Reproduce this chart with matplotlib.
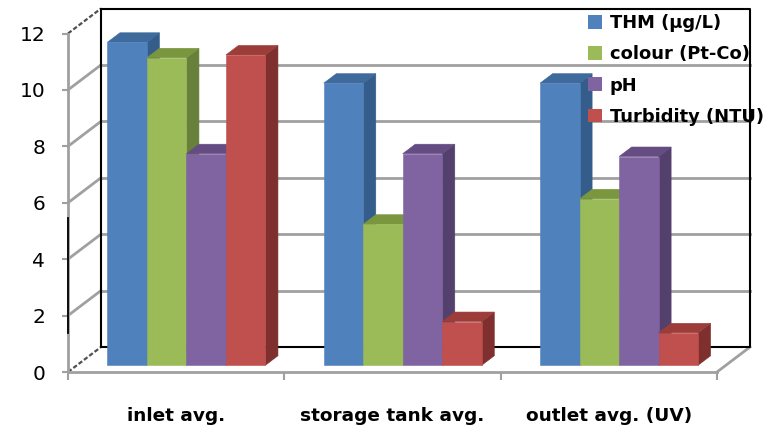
import matplotlib
matplotlib.use("Agg")
import matplotlib.pyplot as plt
from matplotlib.patches import Patch

plt.rcParams["font.family"] = ["DejaVu Sans"]

# averages per sampling point
categories = ["inlet avg.", "storage tank avg.", "outlet avg. (UV)"]
series_names = ["THM (\u00b5g/L)", "colour (Pt-Co)", "pH", "Turbidity (NTU)"]
thm = [11.45, 10.0, 10.0]
colour = [10.9, 5.0, 5.9]
ph = [7.5, 7.5, 7.4]
turbidity = [11.0, 1.55, 1.15]
y_ticks = [0, 2, 4, 6, 8, 10, 12]

series = [thm, colour, ph, turbidity]
# front, top, side shades (Excel 2007 palette)
shades = [
    ("#4F81BD", "#3F6A9C", "#355D8B"),
    ("#9BBB59", "#7A963F", "#67813A"),
    ("#8064A2", "#654C83", "#54406D"),
    ("#C0504D", "#9C3D3A", "#7F302E"),
]

# oblique depth vector in data units (x: categories, y: values)
DX, DY = 0.1525, 0.886
BAR_W = 0.1826
GROUP_OFF = 0.141
F0, F1 = 0.27, 0.65   # depth range occupied by the bars


def shift(x, y, f):
    return x + f * DX, y + f * DY


fig = plt.figure(figsize=(7.65, 4.29), dpi=100)
ax = fig.add_axes([68 / 765, 57 / 429, 649 / 765, 338.5 / 429])
ax.set_xlim(0, 3)
ax.set_ylim(0, 12)

GRAY = "#A0A0A0"
ymax = y_ticks[-1]
ncat = len(categories)

# back wall gridlines
for v in y_ticks[1:-1]:
    xs = [shift(0, v, 1)[0], shift(ncat, v, 1)[0]]
    ys = [shift(0, v, 1)[1]] * 2
    ax.plot(xs, ys, color=GRAY, lw=2.0, clip_on=False, zorder=1)

# left wall diagonals
for v in y_ticks:
    dashed = v in (0, ymax)
    ax.plot([0, DX], [v, v + DY],
            color="#505050" if dashed else GRAY,
            lw=1.6 if dashed else 2.0,
            ls=(0, (2, 1)) if dashed else "-",
            clip_on=False, zorder=1)

# back wall frame
bx0, by0 = shift(0, 0, 1)
bx1, by1 = shift(ncat, ymax, 1)
ax.plot([bx0, bx0, bx1, bx1, bx0], [by1, by0, by0, by1, by1],
        color="black", lw=1.5, clip_on=False, zorder=1.5)

# floor right edge
ax.plot([ncat, ncat + DX], [0, DY], color=GRAY, lw=2.0, clip_on=False, zorder=1)

# bars, drawn left to right so each front face hides the previous side
for c in range(ncat):
    for s, vals in enumerate(series):
        v = vals[c]
        x0 = c + GROUP_OFF + s * BAR_W
        x1 = x0 + BAR_W
        front, top, side = shades[s]
        faces = [
            (side, [shift(x1, 0, F0), shift(x1, 0, F1), shift(x1, v, F1), shift(x1, v, F0)]),
            (top, [shift(x0, v, F0), shift(x1, v, F0), shift(x1, v, F1), shift(x0, v, F1)]),
            (front, [shift(x0, 0, F0), shift(x1, 0, F0), shift(x1, v, F0), shift(x0, v, F0)]),
        ]
        for color, pts in faces:
            xs, ys = zip(*pts)
            ax.fill(xs, ys, facecolor=color, edgecolor=color, lw=0.4,
                    clip_on=False, zorder=3)

# front axes
for side in ["top", "right"]:
    ax.spines[side].set_visible(False)
for side in ["left", "bottom"]:
    ax.spines[side].set_color(GRAY)
    ax.spines[side].set_linewidth(2.0)
    ax.spines[side].set_zorder(2)
ax.plot([0, 0], [1.38, 5.46], color="black", lw=1.3, clip_on=False, zorder=2.5)

ax.set_yticks(y_ticks)
ax.tick_params(axis="y", direction="out", length=4.5, width=1.5, color=GRAY,
               pad=12, labelsize=14.5)
ax.set_xticks([c + 0.5 for c in range(ncat)])
ax.set_xticklabels(categories, fontsize=13.3, fontweight="bold")
ax.set_xticks(range(ncat + 1), minor=True)
ax.tick_params(axis="x", which="major", length=0, pad=25)
ax.tick_params(axis="x", which="minor", direction="out", length=6, width=1.5, color=GRAY)

handles = [Patch(facecolor=sh[0], edgecolor="none") for sh in shades]
ax.legend(handles, series_names, loc="upper left",
          bbox_to_anchor=(588 / 765, 1 - 14 / 429), bbox_transform=fig.transFigure,
          frameon=False, prop=dict(weight="bold", size=12.9),
          handlelength=0.8, handleheight=0.8, handletextpad=0.4,
          labelspacing=0.74, borderpad=0, borderaxespad=0)

fig.savefig("out.png", dpi=100)
